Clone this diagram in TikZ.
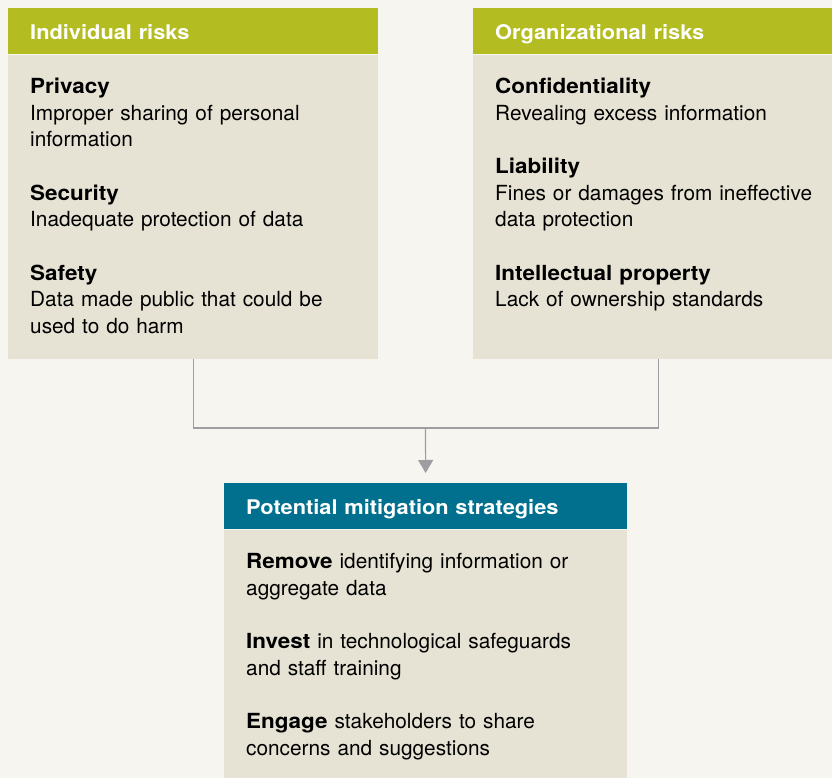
\documentclass[tikz,border=0pt]{standalone}
\usepackage{fontspec}
\setmainfont{TeX Gyre Heros}[BoldFeatures={FakeStretch=1.08}]
\usetikzlibrary{positioning, arrows.meta}

\definecolor{paper}{HTML}{F6F5EF}
\definecolor{riskgreen}{HTML}{B3BC20}
\definecolor{panelbg}{HTML}{E6E3D4}
\definecolor{mitigblue}{HTML}{00708E}
\definecolor{wiregray}{HTML}{9E9DA2}

\newcommand{\headfont}{\fontsize{20.2}{24}\selectfont\bfseries}
\newcommand{\bodyfont}{\fontsize{20.8}{26.5}\selectfont}

\begin{document}
\begin{tikzpicture}[x=1pt,y=1pt,
  head/.style={fill=#1, text=white, font=\headfont, minimum height=46pt,
    text width=326pt, text height=16pt, text depth=0pt,
    inner xsep=22pt, inner ysep=0pt, align=left, anchor=north west},
  sheet/.style={fill=panelbg, minimum width=#1, inner sep=0pt},
  blurb/.style={anchor=north west, inner sep=0pt, text width=345pt, align=left, font=\bodyfont},
  wire/.style={draw=wiregray, line width=1.2pt}]

  \useasboundingbox[fill=paper] (0,0) rectangle (832,-778);
  \clip (0,0) rectangle (832,-778);

  % risk panels
  \node[head=riskgreen] (lhead) at (8,-8) {Individual risks};
  \node[sheet=370pt, minimum height=304pt, below=0pt of lhead] (lbody) {};
  \node[blurb] (ltext) at ([xshift=22pt,yshift=-20.5pt]lbody.north west)
    {\strut\textbf{Privacy}\\
     Improper sharing of personal\\
     information\\[27pt]
     \textbf{Security}\\
     Inadequate protection of data\\[27pt]
     \textbf{Safety}\\
     Data made public that could be\\
     used to do harm};

  \node[head=riskgreen] (rhead) at (473,-8) {Organizational risks};
  \node[sheet=370pt, minimum height=304pt, below=0pt of rhead] (rbody) {};
  \node[blurb] (rtext) at ([xshift=22pt,yshift=-20.5pt]rbody.north west)
    {\strut\textbf{Confidentiality}\\
     Revealing excess information\\[27pt]
     \textbf{Liability}\\
     Fines or damages from ineffective\\
     data protection\\[27pt]
     \textbf{Intellectual property}\\
     Lack of ownership standards};

  % mitigation panel
  \node[head=mitigblue, text width=359pt] (mhead) at (224,-483) {Potential mitigation strategies};
  \node[sheet=403pt, minimum height=270pt, below=0pt of mhead] (mbody) {};
  \node[blurb] (mtext) at ([xshift=22pt,yshift=-20.5pt]mbody.north west)
    {\strut\textbf{Remove} identifying information or\\
     aggregate data\\[27pt]
     \textbf{Invest} in technological safeguards\\
     and staff training\\[27pt]
     \textbf{Engage} stakeholders to share\\
     concerns and suggestions};

  % joining lines
  \coordinate (join) at (425.5,-428);
  \draw[wire] (lbody.south) |- (join) -| (rbody.south);
  \draw[wire, -{Triangle[width=15pt,length=13pt]}, shorten >=10pt] (join) -- (mhead.north);
\end{tikzpicture}
\end{document}
